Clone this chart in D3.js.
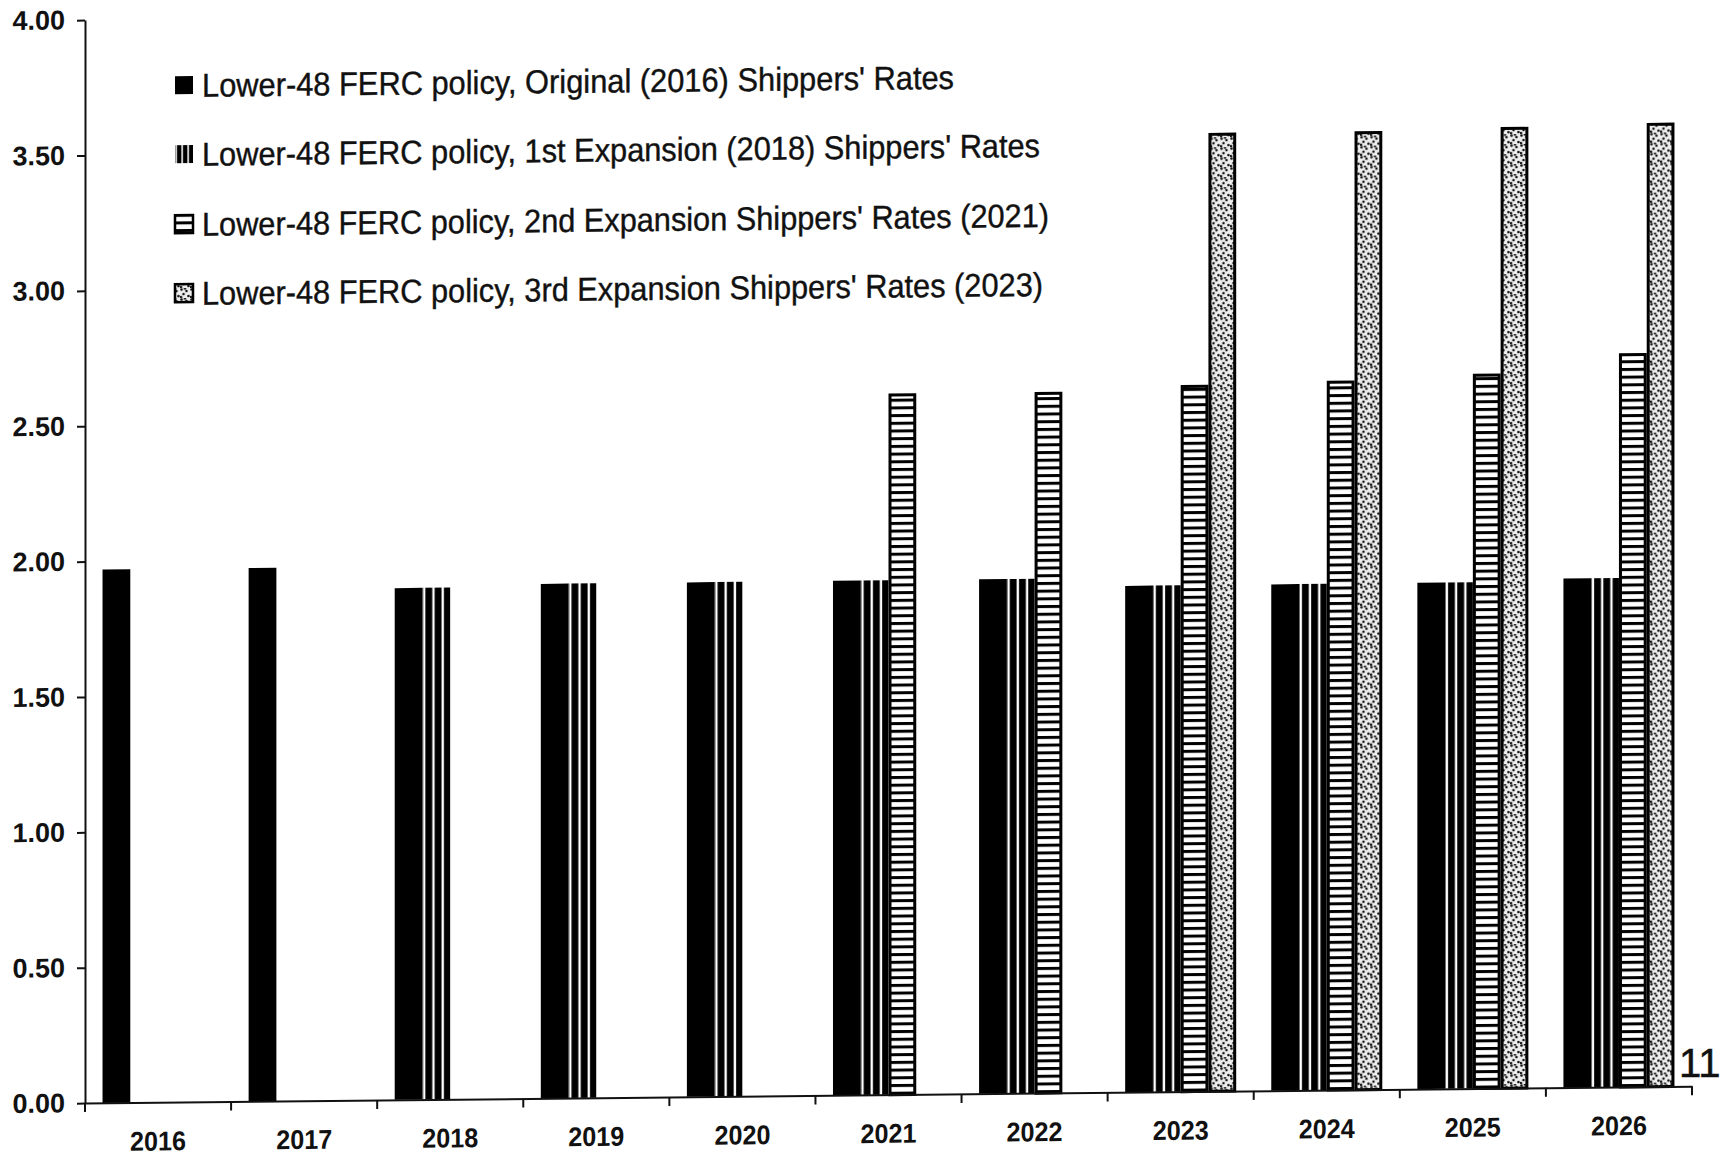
<!DOCTYPE html>
<html>
<head>
<meta charset="utf-8">
<script src="https://cdn.jsdelivr.net/npm/d3@7"></script>
<style>
  html, body { margin: 0; padding: 0; background: #fff; }
  svg { display: block; }
</style>
</head>
<body>
<svg id="chart" width="1722" height="1156"></svg>
<script>
// ---- data ----
const years = ["2016","2017","2018","2019","2020","2021","2022","2023","2024","2025","2026"];
const seriesNames = [
  "Lower-48 FERC policy, Original (2016) Shippers' Rates",
  "Lower-48 FERC policy, 1st Expansion (2018) Shippers' Rates",
  "Lower-48 FERC policy, 2nd Expansion Shippers' Rates (2021)",
  "Lower-48 FERC policy, 3rd Expansion Shippers' Rates (2023)"
];
const original  = [1.97, 1.97, 1.89, 1.90, 1.90, 1.90, 1.90, 1.87, 1.87, 1.87, 1.88];
const expansion1 = [null, null, 1.89, 1.90, 1.90, 1.90, 1.90, 1.87, 1.87, 1.87, 1.88];
const expansion2 = [null, null, null, null, null, 2.59, 2.59, 2.61, 2.62, 2.64, 2.71];
const expansion3 = [null, null, null, null, null, null, null, 3.54, 3.54, 3.55, 3.56];
const yTicks = [0, 0.5, 1, 1.5, 2, 2.5, 3, 3.5, 4];
const pageNumber = "11";

// ---- layout ----
const M = { left: 85, right: 1692, top: 21, bottom: 1104 };
const legendTextWidths = [752, 838, 847, 841];
const legendY = [87, 156, 226, 295];

const svg = d3.select("#chart");
const defs = svg.append("defs");

// patterns
const vp = defs.append("pattern").attr("id", "vstripe")
  .attr("patternUnits", "objectBoundingBox").attr("patternContentUnits", "objectBoundingBox")
  .attr("width", 1/3).attr("height", 1);
vp.append("rect").attr("x", 0).attr("y", 0).attr("width", 1/3).attr("height", 1).attr("fill", "#000");
vp.append("rect").attr("x", 0.02).attr("y", 0).attr("width", 0.085).attr("height", 1).attr("fill", "#fff");

const hp = defs.append("pattern").attr("id", "hstripe")
  .attr("patternUnits", "userSpaceOnUse").attr("width", 10).attr("height", 7.7);
hp.append("rect").attr("width", 10).attr("height", 7.7).attr("fill", "#fff");
hp.append("rect").attr("y", 0).attr("width", 10).attr("height", 3).attr("fill", "#000");

const dp = defs.append("pattern").attr("id", "dots")
  .attr("patternUnits", "userSpaceOnUse").attr("width", 10).attr("height", 10);
dp.append("rect").attr("width", 10).attr("height", 10).attr("fill", "#eeeeee");
[[1.5,1.5],[6.5,3],[3.5,6],[8.5,8],[1,9],[5,0.5]].forEach(([cx, cy]) =>
  dp.append("circle").attr("cx", cx).attr("cy", cy).attr("r", 1.3).attr("fill", "#111"));

const fills = ["#000", "url(#vstripe)", "url(#hstripe)", "url(#dots)"];
const strokes = [null, null, "#000", "#000"];

// skewed group to mimic scan tilt
const g = svg.append("g").attr("transform", "skewY(-0.6)");

const x = d3.scaleBand().domain(years).range([M.left, M.right]).paddingInner(0.24).paddingOuter(0.12);
const xs = d3.scaleBand().domain(d3.range(4)).range([0, x.bandwidth()]).padding(0);
const y = d3.scaleLinear().domain([0, 4]).range([M.bottom, M.top]);

const allSeries = [original, expansion1, expansion2, expansion3];
const rows = [];
years.forEach((yr, i) => allSeries.forEach((s, k) => {
  if (s[i] != null) rows.push({ yr, k, v: s[i] });
}));

g.append("g").selectAll("rect").data(rows).join("rect")
  .attr("x", d => x(d.yr) + xs(d.k) + (strokes[d.k] ? 1.5 : 0))
  .attr("y", d => y(d.v) + (strokes[d.k] ? 1.5 : 0))
  .attr("width", d => xs.bandwidth() - (strokes[d.k] ? 3 : 0))
  .attr("height", d => y(0) - y(d.v) - (strokes[d.k] ? 1.5 : 0))
  .attr("fill", d => fills[d.k])
  .attr("stroke", d => strokes[d.k] || "none")
  .attr("stroke-width", d => strokes[d.k] ? 3 : 0);

// y axis
const yAxis = g.append("g").attr("transform", `translate(${M.left},0)`)
  .call(d3.axisLeft(y).tickValues(yTicks).tickFormat(d3.format(".2f")).tickSize(8).tickSizeOuter(0).tickPadding(12));
yAxis.select(".domain").attr("stroke", "#111").attr("stroke-width", 2);
yAxis.selectAll(".tick line").attr("stroke", "#111").attr("stroke-width", 2);
yAxis.selectAll("text").attr("font-family", "'Liberation Sans', Arial, sans-serif")
  .attr("font-weight", "bold").attr("font-size", 27).attr("fill", "#111");

// x axis
const xAxis = g.append("g").attr("transform", `translate(0,${M.bottom})`)
  .call(d3.axisBottom(x).tickSize(0).tickSizeOuter(0).tickPadding(29));
xAxis.select(".domain").attr("stroke", "#111").attr("stroke-width", 2);
xAxis.selectAll("text").attr("font-family", "'Liberation Sans', Arial, sans-serif")
  .attr("font-weight", "bold").attr("font-size", 27).attr("fill", "#111")
  .attr("textLength", 56).attr("lengthAdjust", "spacingAndGlyphs");
const bounds = d3.range(years.length + 1).map(i => M.left + i * x.step());
xAxis.append("g").selectAll("line").data(bounds).join("line")
  .attr("x1", d => d).attr("x2", d => d).attr("y1", 0).attr("y2", 9)
  .attr("stroke", "#111").attr("stroke-width", 2);

// legend
const lg = g.append("g");
seriesNames.forEach((name, k) => {
  const cy = legendY[k];
  lg.append("rect").attr("x", 175).attr("y", cy - 9).attr("width", 18).attr("height", 18)
    .attr("fill", fills[k]).attr("stroke", strokes[k] || "none").attr("stroke-width", 2.5);
  lg.append("text").attr("x", 202).attr("y", cy).attr("dy", "0.36em")
    .attr("font-family", "'Liberation Sans Narrow', 'Arial Narrow', 'Liberation Sans', Arial, sans-serif")
    .attr("font-size", 33).attr("fill", "#111")
    .attr("stroke", "#111").attr("stroke-width", 0.4)
    .attr("textLength", legendTextWidths[k]).attr("lengthAdjust", "spacingAndGlyphs")
    .text(name);
});

// page number
svg.append("text").attr("x", 1679).attr("y", 1077)
  .attr("font-family", "'Liberation Sans', Arial, sans-serif").attr("font-size", 40).attr("fill", "#111")
  .attr("stroke", "#111").attr("stroke-width", 0.5)
  .text(pageNumber);
</script>
</body>
</html>
